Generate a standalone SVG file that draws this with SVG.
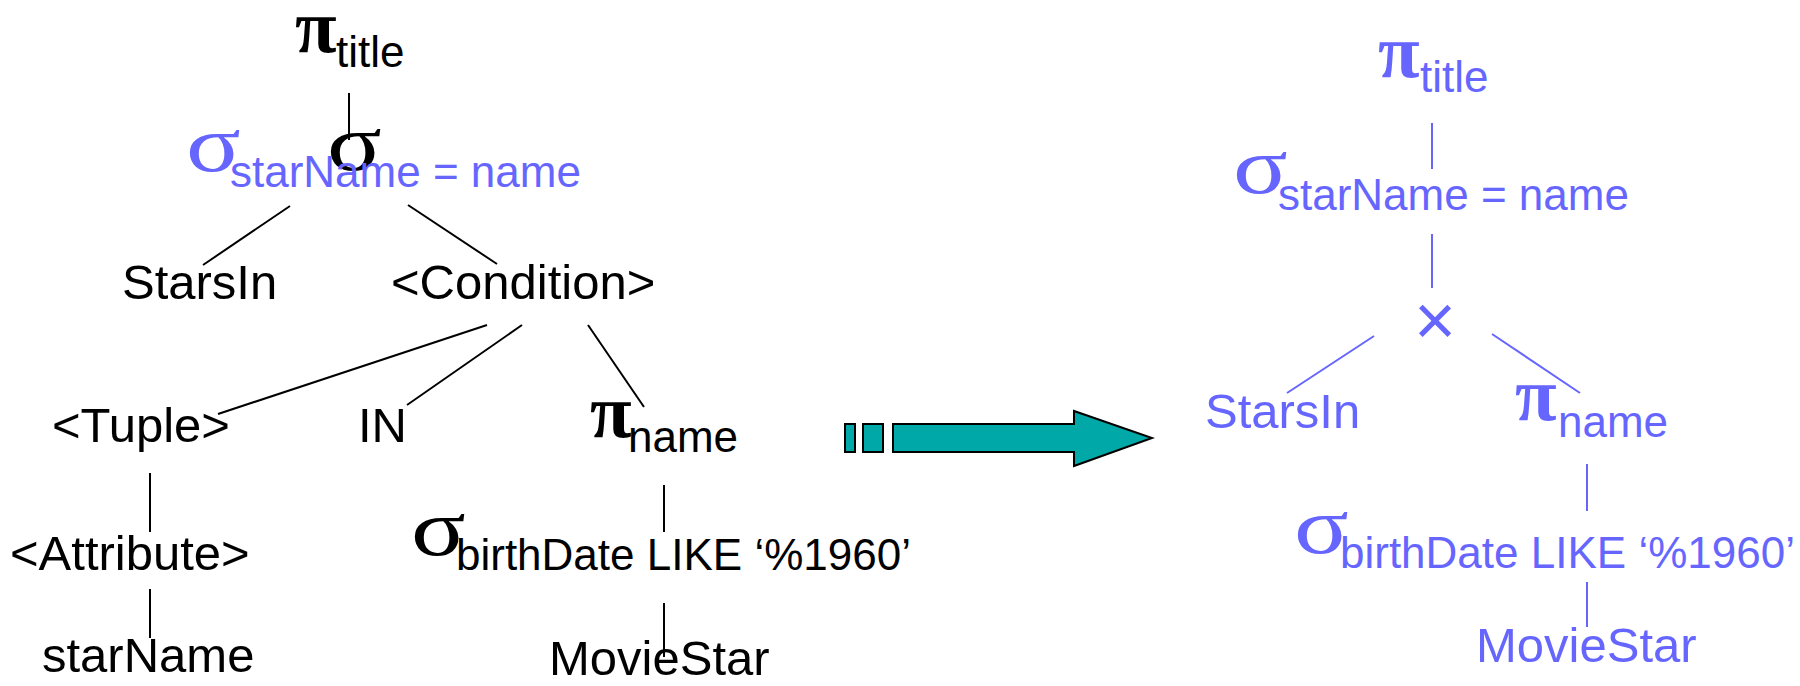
<svg xmlns="http://www.w3.org/2000/svg" width="1800" height="686" viewBox="0 0 1800 686">
  <style>
    .t{font-family:"Liberation Sans",Arial,sans-serif;font-size:49px}
    .s{font-family:"Liberation Sans",Arial,sans-serif;font-size:44px}
    .pi{font-family:"Liberation Serif","Times New Roman",serif;font-size:76px;font-weight:bold}
    .sg{font-family:"Liberation Serif","Times New Roman",serif;font-size:80px}
    .x{font-family:"Liberation Sans",Arial,sans-serif;font-size:72px}
    .k{fill:#000}
    .b{fill:#6666FF}
    .lk line{stroke:#000;stroke-width:2}
    .lb line{stroke:#6666FF;stroke-width:2}
    .arrow{fill:#00A8A8;stroke:#000;stroke-width:2}
  </style>
  <rect width="1800" height="686" fill="#fff"/>

  <!-- parse tree (left) -->
  <g id="connectors-parse" class="lk">
    <line x1="349" y1="93" x2="349" y2="140"/>
    <line x1="290" y1="206" x2="203" y2="265"/>
    <line x1="408" y1="205" x2="497" y2="264"/>
    <line x1="487" y1="325" x2="218" y2="414"/>
    <line x1="522" y1="325" x2="407" y2="405"/>
    <line x1="588" y1="325" x2="644" y2="407"/>
    <line x1="150" y1="473" x2="150" y2="532"/>
    <line x1="150" y1="589" x2="150" y2="638"/>
    <line x1="664" y1="485" x2="664" y2="532"/>
    <line x1="664" y1="603" x2="664" y2="657"/>
  </g>

  <g id="p-pi-title" class="k">
    <text class="pi" x="295" y="52">π</text>
    <text class="s" x="336" y="67">title</text>
  </g>
  <g id="p-sigma" class="k">
    <text class="sg" transform="translate(327,170) scale(1.27,1)">σ</text>
  </g>
  <g id="p-sigma-cond" class="b">
    <text class="sg" transform="translate(186,171) scale(1.27,1)">σ</text>
    <text class="s" x="230" y="187">starName = name</text>
  </g>
  <g id="p-starsin" class="k"><text class="t" x="122" y="299">StarsIn</text></g>
  <g id="p-condition" class="k"><text class="t" x="391" y="299">&lt;Condition&gt;</text></g>
  <g id="p-tuple" class="k"><text class="t" x="52" y="442">&lt;Tuple&gt;</text></g>
  <g id="p-in" class="k"><text class="t" x="358" y="442">IN</text></g>
  <g id="p-pi-name" class="k">
    <text class="pi" x="590" y="437">π</text>
    <text class="s" x="628" y="452">name</text>
  </g>
  <g id="p-attribute" class="k"><text class="t" x="10" y="570">&lt;Attribute&gt;</text></g>
  <g id="p-starname" class="k"><text class="t" x="42" y="672">starName</text></g>
  <g id="p-sigma-birth" class="k">
    <text class="sg" transform="translate(411,555) scale(1.27,1)">σ</text>
    <text class="s" x="456" y="570">birthDate LIKE ‘%1960’</text>
  </g>
  <g id="p-moviestar" class="k"><text class="t" x="549" y="675">MovieStar</text></g>

  <!-- transformation arrow -->
  <g id="transform-arrow" class="arrow">
    <rect x="845" y="424" width="10" height="28"/>
    <rect x="863" y="424" width="20" height="28"/>
    <polygon points="893,424 1074,424 1074,411 1152,438 1074,466 1074,452 893,452"/>
  </g>

  <!-- logical query plan (right) -->
  <g id="connectors-plan" class="lb">
    <line x1="1432" y1="123" x2="1432" y2="169"/>
    <line x1="1432" y1="234" x2="1432" y2="288"/>
    <line x1="1374" y1="336" x2="1287" y2="393"/>
    <line x1="1492" y1="334" x2="1580" y2="393"/>
    <line x1="1587" y1="464" x2="1587" y2="511"/>
    <line x1="1587" y1="582" x2="1587" y2="627"/>
  </g>

  <g id="q-pi-title" class="b">
    <text class="pi" x="1378" y="77">π</text>
    <text class="s" x="1420" y="92">title</text>
  </g>
  <g id="q-sigma-cond" class="b">
    <text class="sg" transform="translate(1233,193) scale(1.27,1)">σ</text>
    <text class="s" x="1278" y="210">starName = name</text>
  </g>
  <g id="q-product" class="b"><text class="x" x="1435" y="345" text-anchor="middle">×</text></g>
  <g id="q-starsin" class="b"><text class="t" x="1205" y="428">StarsIn</text></g>
  <g id="q-pi-name" class="b">
    <text class="pi" x="1515" y="420">π</text>
    <text class="s" x="1558" y="437">name</text>
  </g>
  <g id="q-sigma-birth" class="b">
    <text class="sg" transform="translate(1294,553) scale(1.27,1)">σ</text>
    <text class="s" x="1340" y="568">birthDate LIKE ‘%1960’</text>
  </g>
  <g id="q-moviestar" class="b"><text class="t" x="1476" y="662">MovieStar</text></g>
</svg>
